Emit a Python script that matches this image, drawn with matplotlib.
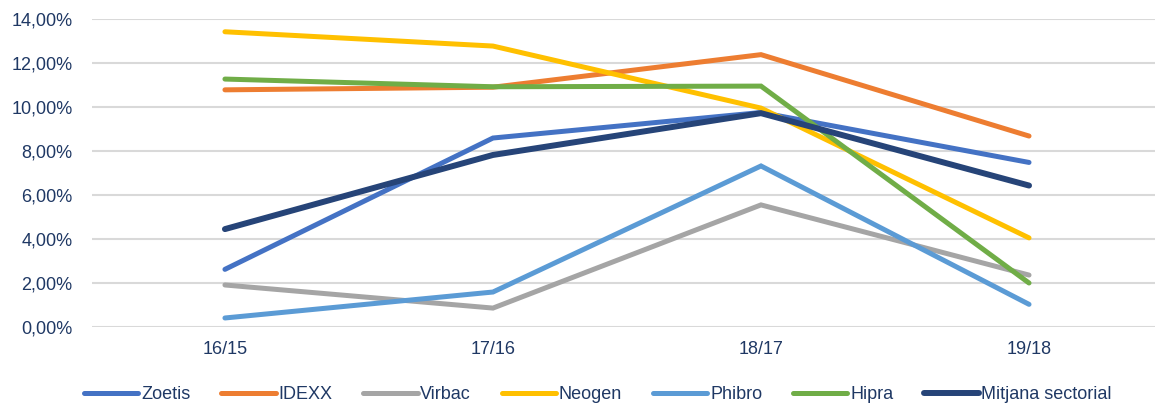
import matplotlib.pyplot as plt
from matplotlib.ticker import FuncFormatter

plt.rcParams["font.family"] = ["Liberation Sans", "DejaVu Sans"]

periods = ["16/15", "17/16", "18/17", "19/18"]

zoetis = [2.62, 8.59, 9.75, 7.48]
idexx = [10.78, 10.90, 12.38, 8.68]
virbac = [1.91, 0.86, 5.55, 2.36]
neogen = [13.42, 12.77, 9.95, 4.05]
phibro = [0.41, 1.59, 7.32, 1.03]
hipra = [11.27, 10.92, 10.95, 2.00]
mitjana = [4.45, 7.82, 9.72, 6.43]

names = ["Zoetis", "IDEXX", "Virbac", "Neogen", "Phibro", "Hipra", "Mitjana sectorial"]
series = [zoetis, idexx, virbac, neogen, phibro, hipra, mitjana]
colors = ["#4472C4", "#ED7D31", "#A5A5A5", "#FFC000", "#5B9BD5", "#70AD47", "#264478"]
widths = [3.6, 3.6, 3.6, 3.6, 3.6, 3.6, 4.3]

text_color = "#1F3864"

fig = plt.figure(figsize=(11.55, 4.03), dpi=100)
ax = fig.add_axes([92 / 1155, 76 / 403, 1063 / 1155, 308 / 403])

x = range(len(periods))
for name, vals, c, w in zip(names, series, colors, widths):
    ax.plot(x, vals, color=c, lw=w, label=name, solid_capstyle="round",
            solid_joinstyle="miter", clip_on=False, zorder=3)

ax.set_ylim(0, 14)
ax.set_yticks(range(0, 15, 2))
ax.yaxis.set_major_formatter(FuncFormatter(lambda v, p: f"{v:.2f}".replace(".", ",") + "%"))
ax.set_xlim(-0.496, 3.47)
ax.set_xticks(list(x))
ax.set_xticklabels(periods)

ax.grid(axis="y", color="#D9D9D9", lw=1.5)
ax.set_axisbelow(True)
for s in ax.spines.values():
    s.set_visible(False)
ax.tick_params(axis="both", length=0, labelsize=13, labelcolor=text_color)
ax.tick_params(axis="y", pad=14)
ax.tick_params(axis="x", pad=10)

fig.legend(loc="center", bbox_to_anchor=(598 / 1155, 0.02), ncol=7, frameon=False,
           fontsize=13, handlelength=3.0, handletextpad=0.15, columnspacing=1.72,
           labelcolor=text_color)

fig.savefig("out.png", dpi=100)
